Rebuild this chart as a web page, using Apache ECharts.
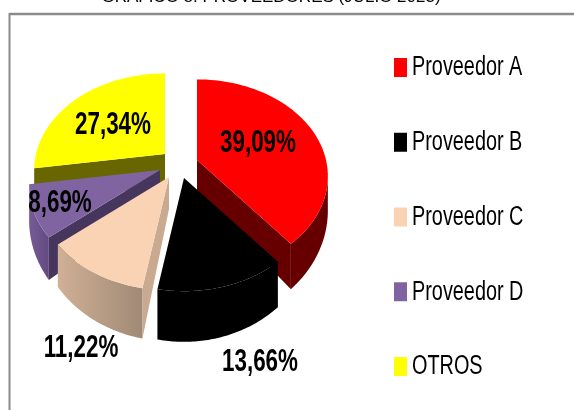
<!DOCTYPE html>
<html>
<head>
<meta charset="utf-8">
<style>html,body{margin:0;padding:0;background:#fff}#c{width:574px;height:410px}</style>
<script src="https://cdn.jsdelivr.net/npm/echarts@6/dist/echarts.min.js"></script>
</head>
<body>
<div id="c"></div>
<script>
const categories = ['Proveedor A', 'Proveedor B', 'Proveedor C', 'Proveedor D', 'OTROS'];
const values = [39.09, 13.66, 11.22, 8.69, 27.34];
const valueLabels = ['39,09%', '13,66%', '11,22%', '8,69%', '27,34%'];

const looks = [
  { top: '#ff0000', arc: ['#660000', '#660000'], side: '#660000', apex: [197, 160], text: [258, 143] },
  { top: '#000000', arc: ['#000000', '#000000'], side: '#000000', apex: [184, 178], text: [260, 362] },
  { top: '#fad3b5', arc: ['#d0b096', '#a08a75'], side: '#c9aa90', apex: [169, 177], text: [81, 348] },
  { top: '#8064a2', arc: ['#775b97', '#634a80'], side: '#46355c', apex: [160, 170], text: [60, 203] },
  { top: '#ffff00', arc: ['#666600', '#666600'], side: '#686600', apex: [165, 154], text: [113, 125] }
];
const paintOrder = [4, 3, 0, 2, 1];
const R = 129, K = 0.73, P = 0.168, D = 32, DEPTH_POWER = 2.5;
const total = values.reduce((a, b) => a + b, 0);

function project(look, angle, r, z) {
  const X = Math.sin(angle) * r, Y = -Math.cos(angle) * r;
  const s = 1 / (1 - P * Y);
  return [look.apex[0] + R * X * s, look.apex[1] + K * R * Y * s + z * D * Math.pow(s, DEPTH_POWER)];
}

function drawSlice(index, value) {
  const look = looks[index];
  let before = 0;
  for (let i = 0; i < index; i++) before += values[i];
  const a0 = before / total * Math.PI * 2;
  const a1 = a0 + value / total * Math.PI * 2;
  const n = 60, top = [], floor = [];
  for (let i = 0; i <= n; i++) {
    const a = a0 + (a1 - a0) * i / n;
    top.push(project(look, a, 1, 0));
    floor.push(project(look, a, 1, 1));
  }
  const apex = project(look, 0, 0, 0), apexLow = project(look, 0, 0, 1);
  const children = [];
  const side = (p, q, pLow, qLow) => {
    if (q[0] < p[0]) children.push({ type: 'polygon', shape: { points: [p, q, qLow, pLow] }, style: { fill: look.side } });
  };
  side(apex, top[0], apexLow, floor[0]);
  side(top[n], apex, floor[n], apexLow);
  const upper = [], lower = [];
  for (let i = 0; i <= n; i++) {
    const visible = (i < n && top[i + 1][0] < top[i][0]) || (i > 0 && top[i][0] < top[i - 1][0]);
    if (visible) { upper.push(top[i]); lower.unshift(floor[i]); }
  }
  if (upper.length > 1) {
    children.push({
      type: 'polygon', shape: { points: upper.concat(lower) },
      style: { fill: new echarts.graphic.LinearGradient(0, 0, 1, 0, [
        { offset: 0, color: look.arc[0] }, { offset: 1, color: look.arc[1] }
      ]) }
    });
  }
  children.push({ type: 'polygon', shape: { points: [apex].concat(top) }, style: { fill: look.top } });
  return { type: 'group', children };
}

function drawLabel(index) {
  const t = looks[index].text;
  return {
    type: 'text', x: t[0], y: t[1], scaleX: 0.7, z2: 100,
    style: {
      text: valueLabels[index], fill: '#000', align: 'center', verticalAlign: 'middle',
      font: 'bold 32px "Liberation Sans",sans-serif'
    }
  };
}

const LEGEND_TOP = 58, LEGEND_PITCH = 74.75;
function drawLegendItem(index) {
  const y = LEGEND_TOP + index * LEGEND_PITCH;
  return {
    type: 'group',
    children: [
      { type: 'rect', shape: { x: 394, y: y, width: 13, height: 19 }, style: { fill: looks[index].top } },
      { type: 'text', x: 412, y: y + 10, scaleX: 0.735, style: {
        text: categories[index], fill: '#000', align: 'left', verticalAlign: 'middle',
        font: '27px "Liberation Sans",sans-serif' } }
    ]
  };
}

const sliceSeries = paintOrder.map(idx => ({
  type: 'custom', name: categories[idx], coordinateSystem: 'none',
  data: [[values[idx]]], animation: false, silent: true,
  itemStyle: { color: looks[idx].top }, z: 2,
  renderItem: (p, api) => drawSlice(idx, api.value(0))
}));
const labelSeries = {
  type: 'custom', name: 'etiquetas', coordinateSystem: 'none',
  data: values.map(v => [v]), animation: false, silent: true, z: 3,
  renderItem: (p) => drawLabel(p.dataIndex)
};
const legendSeries = {
  type: 'custom', name: 'leyenda', coordinateSystem: 'none',
  data: categories.map((c, i) => [i]), animation: false, silent: true, z: 3,
  renderItem: (p) => drawLegendItem(p.dataIndex)
};

const chart = echarts.init(document.getElementById('c'), null, { renderer: 'canvas' });
chart.setOption({
  animation: false,
  backgroundColor: '#fff',
  title: {
    text: 'GRÁFICO 8. PROVEEDORES (JULIO 2023)', left: 271, textAlign: 'center', top: -11, padding: 0,
    textStyle: { color: '#000', fontWeight: 'normal', fontSize: 17, fontFamily: '"Liberation Sans",sans-serif' }
  },
  graphic: [
    { type: 'line', shape: { x1: 9.5, y1: 14, x2: 574, y2: 14 }, style: { stroke: '#8a8a8a', lineWidth: 2.5 } },
    { type: 'line', shape: { x1: 9.5, y1: 13, x2: 9.5, y2: 410 }, style: { stroke: '#8a8a8a', lineWidth: 2 } }
  ],
  series: sliceSeries.concat([labelSeries, legendSeries])
});
</script>
</body>
</html>
